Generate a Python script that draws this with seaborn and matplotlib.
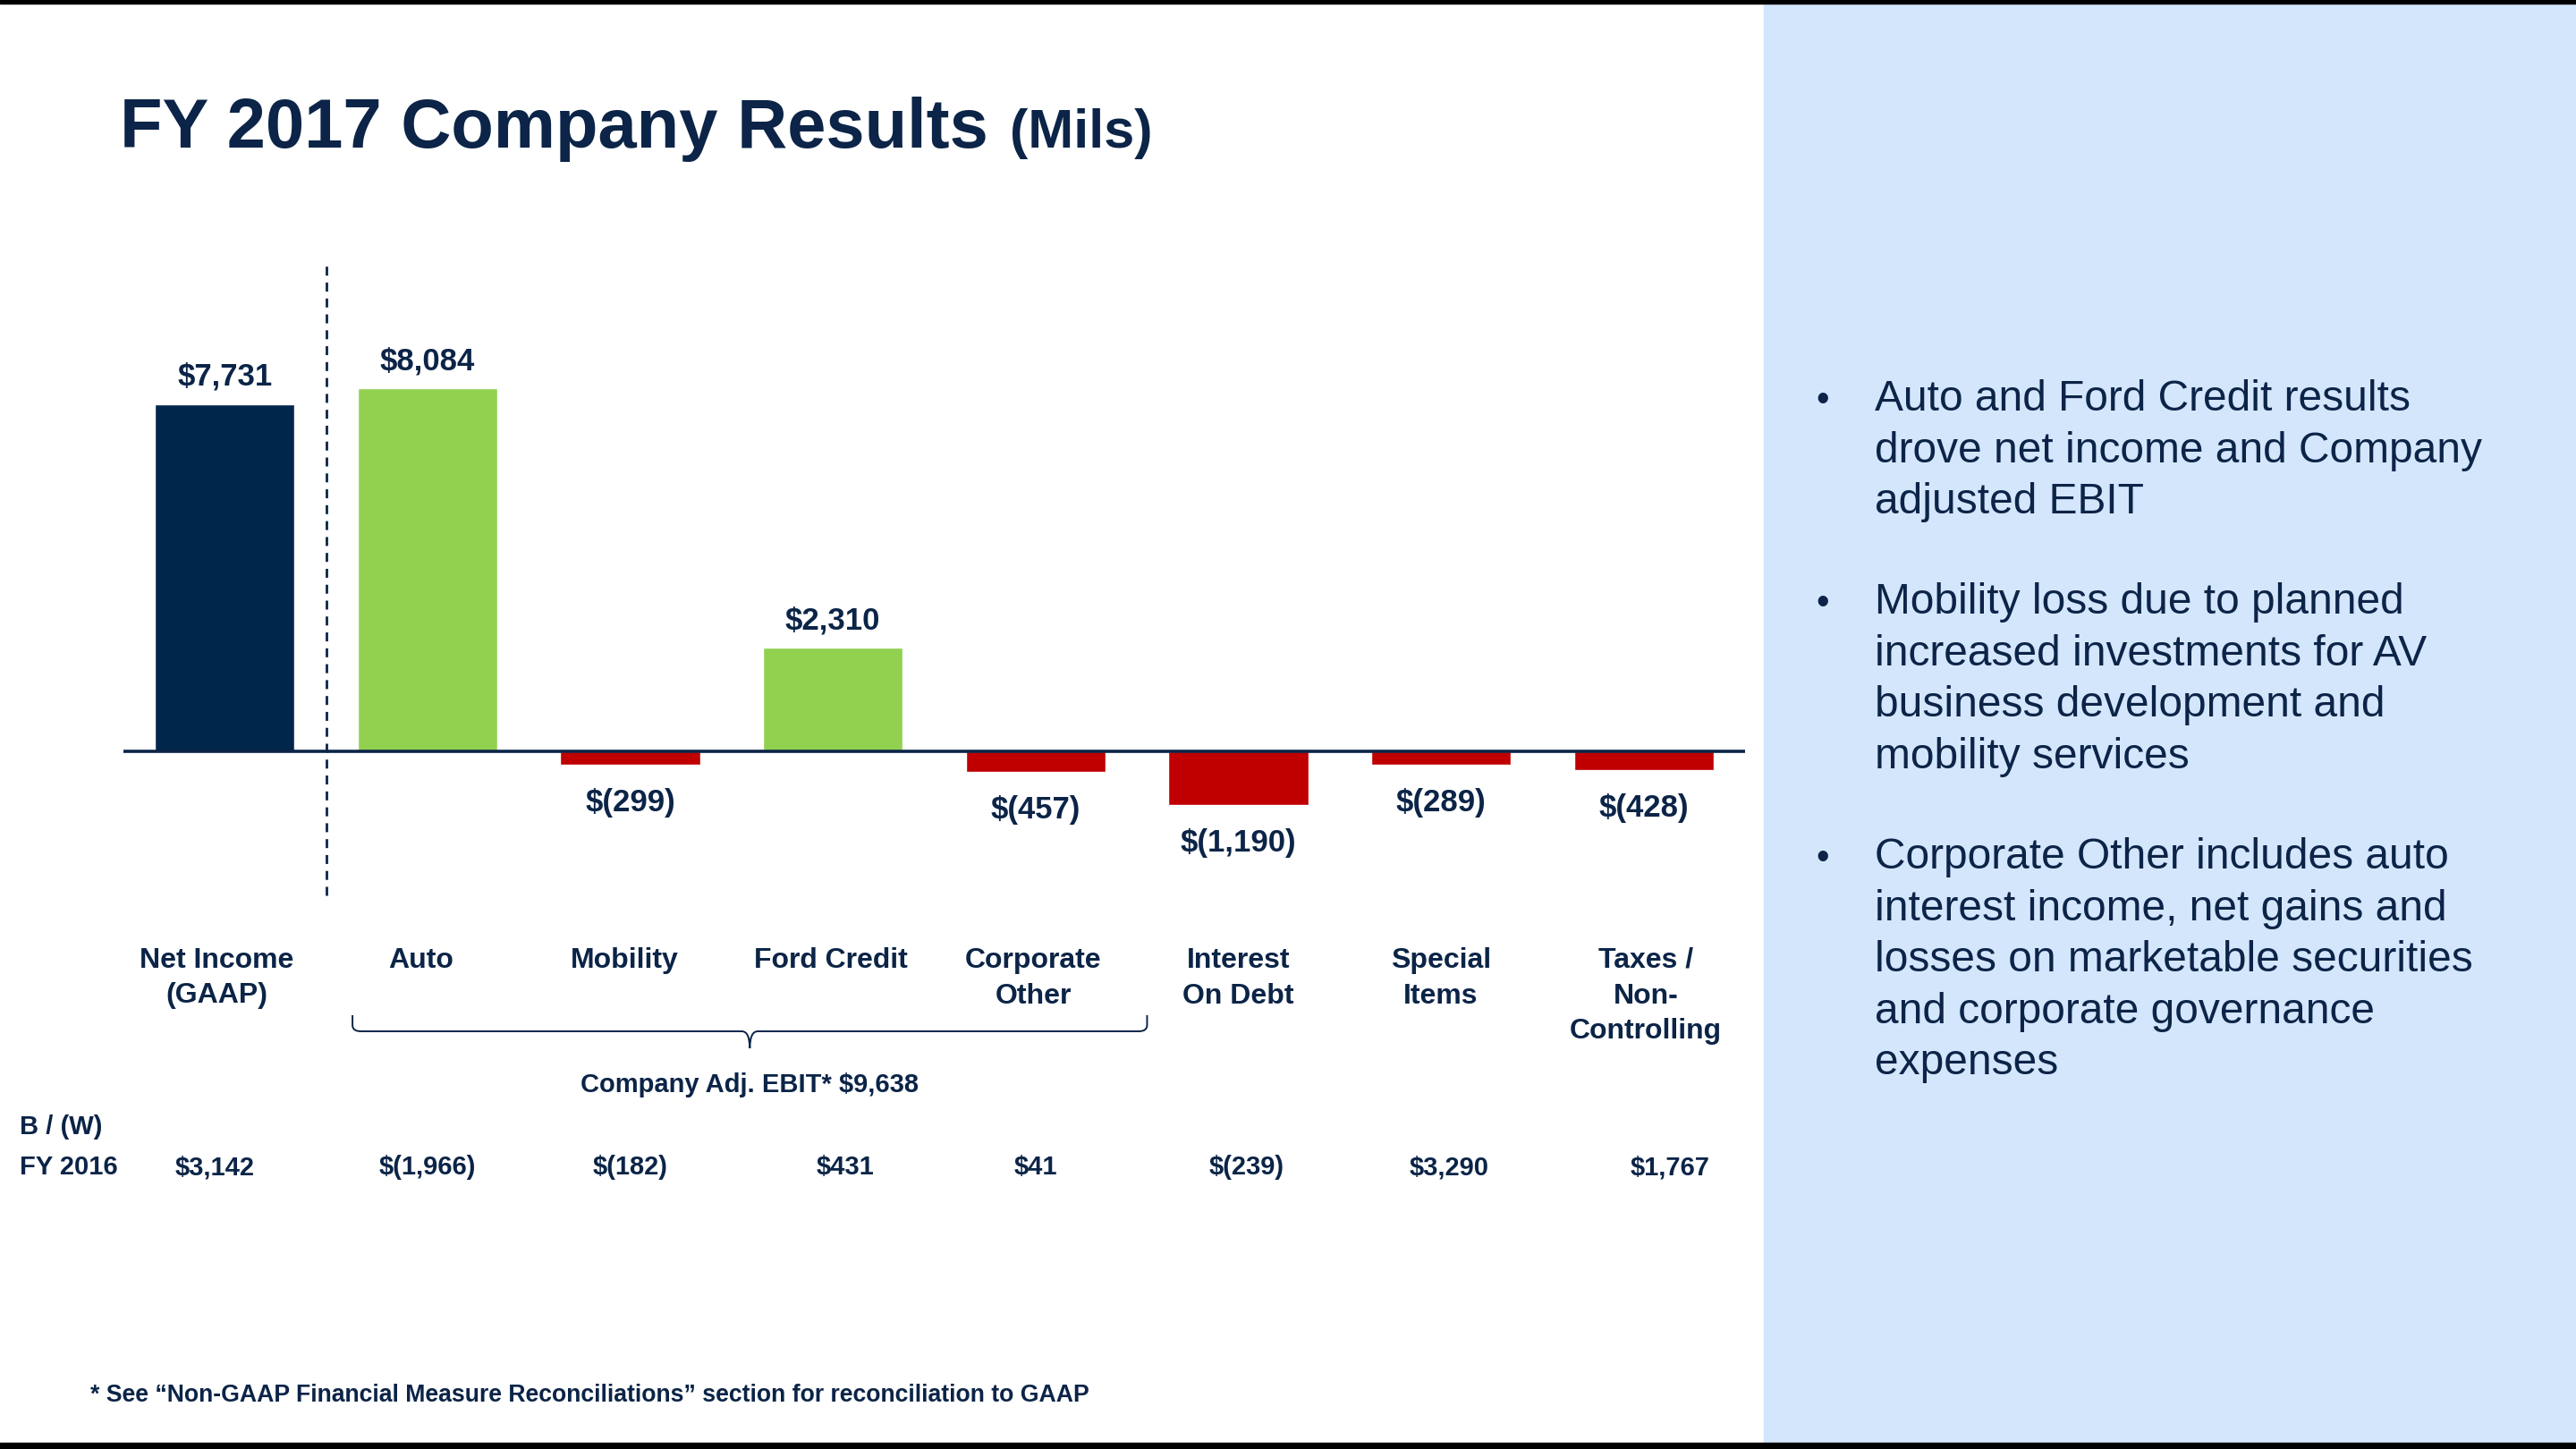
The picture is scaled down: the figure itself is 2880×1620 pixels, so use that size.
import matplotlib
matplotlib.use("Agg")
import matplotlib.pyplot as plt
import matplotlib.transforms as mtransforms
from matplotlib.patches import Rectangle, PathPatch
from matplotlib.path import Path
import pandas as pd
import seaborn as sns

# ---- data ($ millions) ----
categories = ["Net Income (GAAP)", "Auto", "Mobility", "Ford Credit", "Corporate Other",
              "Interest On Debt", "Special Items", "Taxes / Non-Controlling"]
category_lines = [["Net Income", "(GAAP)"], ["Auto"], ["Mobility"], ["Ford Credit"],
                  ["Corporate", "Other"], ["Interest", "On Debt"], ["Special", "Items"],
                  ["Taxes /", "Non-", "Controlling"]]
results_2017 = [7731, 8084, -299, 2310, -457, -1190, -289, -428]
better_worse_2016 = [3142, -1966, -182, 431, 41, -239, 3290, 1767]
bar_kind = ["total", "gain", "loss", "gain", "loss", "loss", "loss", "loss"]
ebit_label = "Company Adj. EBIT* $9,638"
bullets = [
    ["Auto and Ford Credit results", "drove net income and Company", "adjusted EBIT"],
    ["Mobility loss due to planned", "increased investments for AV",
     "business development and", "mobility services"],
    ["Corporate Other includes auto", "interest income, net gains and",
     "losses on marketable securities", "and corporate governance", "expenses"],
]
footnote = "* See \u201cNon-GAAP Financial Measure Reconciliations\u201d section for reconciliation to GAAP"

# ---- style / layout ----
NAVY = "#0B2447"
KIND_COLORS = {"total": "#01264C", "gain": "#92D050", "loss": "#C00000"}
PANEL = "#D4E6FC"
W, H = 2880, 1620
PX_PER_M = 0.0502          # pixels per $M on the bar scale
ZERO_Y = 840               # pixel row of the zero line
AX_TOP, AX_BOT = 250, 1050
label_dx = [-0.04, -0.03, -0.03, -0.01, -0.01, 0, 0, 0.01]
row_dx = [-0.05, 0, 0, 0.06, 0, 0.04, 0.04, 0.13]


def money(v):
    return f"${v:,}" if v >= 0 else f"$({-v:,})"


def fy(px):
    return 1 - px / H


sns.set_theme(style="white")
plt.rcParams["font.family"] = ["Liberation Sans", "DejaVu Sans"]

fig = plt.figure(figsize=(W / 100, H / 100), dpi=100)
fig.patch.set_facecolor("white")

# right panel and slide borders
fig.patches.append(Rectangle((1972 / W, fy(1613)), 1 - 1972 / W, (1613 - 4) / H,
                             transform=fig.transFigure, color=PANEL, zorder=0))
fig.patches.append(Rectangle((0, fy(4)), 1, 4 / H, transform=fig.transFigure, color="black"))
fig.patches.append(Rectangle((0, 0), 1, 7 / H, transform=fig.transFigure, color="black"))

ax = fig.add_axes([138 / W, fy(AX_BOT), (1951 - 138) / W, (AX_BOT - AX_TOP) / H])
df = pd.DataFrame({"category": categories, "value": results_2017, "kind": bar_kind})
sns.barplot(data=df, x="category", y="value", hue="kind", palette=KIND_COLORS,
            width=0.69, saturation=1, legend=False, dodge=False, ax=ax)
ax.set_xlim(-0.5, len(categories) - 0.5)
ax.set_ylim(-(AX_BOT - ZERO_Y) / PX_PER_M, (ZERO_Y - AX_TOP) / PX_PER_M)
ax.set_axis_off()
ax.axhline(0, color=NAVY, lw=2.6, zorder=5)
ax.axvline(0.5, ymin=(AX_BOT - 1001) / (AX_BOT - AX_TOP), ymax=(AX_BOT - 294) / (AX_BOT - AX_TOP),
           color=NAVY, lw=2, ls=(0, (3.6, 2.8)), clip_on=False)

# value labels
for i, v in enumerate(results_2017):
    if v >= 0:
        ax.annotate(money(v), (i, v), xytext=(0, 21), textcoords="offset pixels",
                    ha="center", va="baseline", fontsize=25, fontweight="bold", color=NAVY)
    else:
        ax.annotate(money(v), (i, v), xytext=(0, -52), textcoords="offset pixels",
                    ha="center", va="baseline", fontsize=25, fontweight="bold", color=NAVY)

mixed = mtransforms.blended_transform_factory(ax.transData, fig.transFigure)

# category labels under the chart
for i, lines in enumerate(category_lines):
    for k, line in enumerate(lines):
        ax.text(i + label_dx[i], fy(1082 + k * 39.5), line, transform=mixed, ha="center",
                va="baseline", fontsize=23, fontweight="bold", color=NAVY, clip_on=False)

# brace over the adjusted EBIT segments
x0, x1, xc = 0.63, 4.55, 2.59
ytop, ymid, ybot = fy(1135), fy(1153), fy(1172)
r = fy(1146) - ymid
dx = 0.04
verts = [(x0, ytop), (x0, ymid + r), (x0, ymid), (x0 + dx, ymid), (xc - dx, ymid),
         (xc, ymid), (xc, ybot), (xc, ymid), (xc + dx, ymid), (x1 - dx, ymid),
         (x1, ymid), (x1, ymid + r), (x1, ytop)]
codes = [Path.MOVETO, Path.LINETO, Path.CURVE3, Path.CURVE3, Path.LINETO,
         Path.CURVE3, Path.CURVE3, Path.CURVE3, Path.CURVE3, Path.LINETO,
         Path.CURVE3, Path.CURVE3, Path.LINETO]
ax.add_patch(PathPatch(Path(verts, codes), transform=mixed, fill=False, ec=NAVY,
                       lw=1.4, clip_on=False))
ax.text(xc, fy(1221), ebit_label, transform=mixed, ha="center", va="baseline",
        fontsize=21, fontweight="bold", color=NAVY)

# B / (W) FY 2016 row
fig.text(22 / W, fy(1268), "B / (W)", ha="left", va="baseline", fontsize=21,
         fontweight="bold", color=NAVY)
fig.text(22 / W, fy(1313), "FY 2016", ha="left", va="baseline", fontsize=21,
         fontweight="bold", color=NAVY)
for i, v in enumerate(better_worse_2016):
    ax.text(i + row_dx[i], fy(1313), money(v), transform=mixed, ha="center", va="baseline",
            fontsize=21, fontweight="bold", color=NAVY)

# title
title = fig.text(134 / W, fy(165), "FY 2017 Company Results", ha="left", va="baseline",
                 fontsize=56, fontweight="bold", color=NAVY)
fig.canvas.draw()
bb = title.get_window_extent()
fig.text((bb.x1 + 24) / W, fy(165), "(Mils)", ha="left", va="baseline",
         fontsize=44, fontweight="bold", color=NAVY)

# footnote
fig.text(101 / W, fy(1567), footnote, ha="left", va="baseline", fontsize=19.2,
         fontweight="bold", color=NAVY)

# bullets in the side panel
y = 459
for para in bullets:
    fig.text(2030 / W, fy(y), "\u2022", ha="left", va="baseline", fontsize=30, color=NAVY)
    for line in para:
        fig.text(2096 / W, fy(y), line, ha="left", va="baseline", fontsize=34.5, color=NAVY)
        y += 57.6
    y += 112 - 57.6

fig.savefig("out.png", dpi=100)
